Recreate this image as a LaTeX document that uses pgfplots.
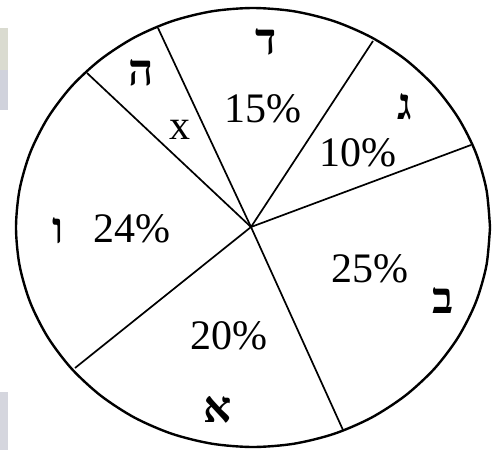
\documentclass[border=0pt]{standalone}
\usepackage{pgfplots}
\pgfplotsset{compat=1.18}
\usepackage{fontspec}
\setmainfont{Liberation Serif}
\newfontfamily\hebfont[Script=Hebrew]{Liberation Serif}

\tikzset{
    pct/.style={font=\fontsize{42}{48}\selectfont, inner sep=0pt, anchor=center},
    heb/.style={font=\hebfont\bfseries\fontsize{44}{50}\selectfont, inner sep=0pt, anchor=center},
}

\begin{document}
\begin{tikzpicture}
\begin{axis}[
    width=493pt, height=450pt,
    scale only axis,
    xmin=0, xmax=493,
    ymin=0, ymax=450,
    y dir=reverse,
    axis line style={draw=none},
    ticks=none,
    axis background/.style={fill=white},
    clip=false,
]
% scan shading on the left edge
\fill[fill={rgb,255:red,218;green,219;blue,208}] (axis cs:0,28) rectangle (axis cs:8,70);
\fill[fill={rgb,255:red,208;green,210;blue,220}] (axis cs:0,70) rectangle (axis cs:8,110);
\fill[fill={rgb,255:red,213;green,214;blue,222}] (axis cs:0,392) rectangle (axis cs:8,450);

% outline of the pie
\addplot[black, line width=2.4pt, smooth] coordinates {
(490,227.5) (486.4,189.4) (475.7,152.4) (458.2,117.8) (434.5,86.4) (405.3,59.4)
(371.5,37.4) (334.1,21.2) (294.1,11.3) (253,8) (211.9,11.3) (171.9,21.2)
(134.5,37.4) (100.7,59.4) (71.5,86.4) (47.8,117.8) (30.3,152.4) (19.6,189.4)
(16,227.5) (19.6,265.6) (30.3,302.6) (47.8,337.2) (71.5,368.6) (100.7,395.6)
(134.5,417.6) (171.9,433.8) (211.9,443.7) (253,447) (294.1,443.7) (334.1,433.8)
(371.5,417.6) (405.3,395.6) (434.5,368.6) (458.2,337.2) (475.7,302.6) (486.4,265.6)
(490,227.5)};

% slice boundaries
\addplot[black, line width=1.7pt] coordinates {(251,227) (158,28)};
\addplot[black, line width=1.7pt] coordinates {(251,227) (87,73)};
\addplot[black, line width=1.7pt] coordinates {(251,227) (373,41)};
\addplot[black, line width=1.7pt] coordinates {(251,227) (471,145)};
\addplot[black, line width=1.7pt] coordinates {(251,227) (343,430)};
\addplot[black, line width=1.7pt] coordinates {(251,227) (75,368)};

% values
\node[pct] at (axis cs:262.5,109) {15\%};
\node[pct] at (axis cs:358,152.5) {10\%};
\node[pct] at (axis cs:370,269) {25\%};
\node[pct] at (axis cs:229,335.5) {20\%};
\node[pct] at (axis cs:131.7,229) {24\%};
\node[pct] at (axis cs:180,130) {x};

% slice names
\node[heb] at (axis cs:266,42) {ד};
\node[heb] at (axis cs:405,107) {ג};
\node[heb] at (axis cs:443,301) {ב};
\node[heb] at (axis cs:217.5,410) {א};
\node[heb] at (axis cs:58,231) {ו};
\node[heb] at (axis cs:141,73) {ה};
\end{axis}
\end{tikzpicture}
\end{document}
